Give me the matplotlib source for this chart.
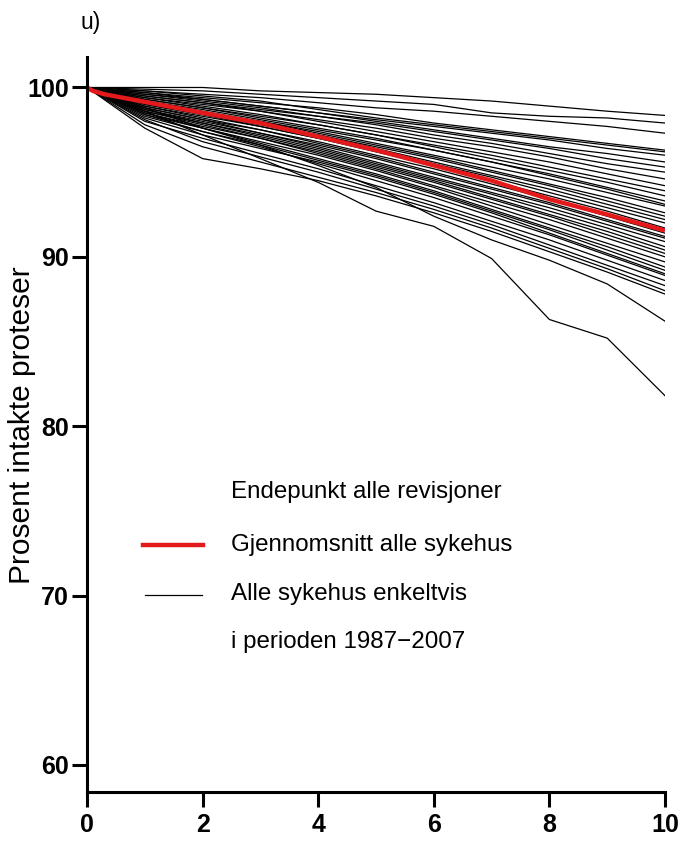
import matplotlib
matplotlib.use("Agg")
import matplotlib.pyplot as plt

years = [0, 1, 2, 3, 4, 5, 6, 7, 8, 9, 10]

hospitals = [
    [100, 100.0, 100.0, 99.8, 99.7, 99.6, 99.4, 99.2, 98.9, 98.6, 98.35],
    [100, 99.9, 99.8, 99.6, 99.4, 99.2, 99.0, 98.5, 98.3, 98.2, 97.9],
    [100, 99.8, 99.6, 99.4, 99.1, 98.8, 98.6, 98.3, 98.0, 97.7, 97.3],
    [100, 99.7, 99.4, 99.1, 98.8, 98.4, 97.9, 97.5, 97.1, 96.7, 96.3],
    [100, 99.8, 99.5, 99.2, 98.7, 98.2, 97.8, 97.4, 97.0, 96.6, 96.2],
    [100, 99.6, 99.3, 98.9, 98.5, 98.1, 97.7, 97.3, 96.9, 96.4, 96.0],
    [100, 99.7, 99.3, 98.9, 98.5, 98.0, 97.5, 97.0, 96.5, 96.1, 95.6],
    [100, 99.5, 99.1, 98.7, 98.3, 97.9, 97.4, 96.9, 96.4, 95.8, 95.3],
    [100, 99.6, 99.2, 98.8, 98.3, 97.8, 97.2, 96.7, 96.1, 95.5, 95.0],
    [100, 99.4, 99.0, 98.6, 98.1, 97.6, 97.0, 96.5, 95.9, 95.2, 94.6],
    [100, 99.5, 99.1, 98.6, 98.0, 97.4, 96.8, 96.2, 95.6, 94.9, 94.2],
    [100, 99.3, 98.8, 98.3, 97.8, 97.2, 96.6, 96.0, 95.3, 94.6, 93.9],
    [100, 99.4, 98.9, 98.4, 97.8, 97.2, 96.5, 95.8, 95.1, 94.4, 93.6],
    [100, 99.2, 98.7, 98.1, 97.5, 96.9, 96.3, 95.6, 94.9, 94.1, 93.3],
    [100, 99.3, 98.8, 98.2, 97.6, 97.0, 96.3, 95.6, 94.8, 94.0, 93.1],
    [100, 99.1, 98.5, 98.0, 97.4, 96.7, 96.0, 95.3, 94.6, 93.8, 93.0],
    [100, 99.2, 98.6, 98.0, 97.3, 96.6, 95.9, 95.1, 94.3, 93.5, 92.6],
    [100, 99.0, 98.4, 97.8, 97.2, 96.5, 95.8, 95.0, 94.2, 93.3, 92.4],
    [100, 99.1, 98.5, 97.9, 97.2, 96.4, 95.6, 94.8, 94.0, 93.1, 92.2],
    [100, 98.9, 98.3, 97.7, 97.0, 96.3, 95.5, 94.7, 93.8, 92.9, 92.0],
    [100, 99.0, 98.4, 97.7, 97.0, 96.2, 95.4, 94.5, 93.6, 92.7, 91.7],
    [100, 98.8, 98.1, 97.5, 96.8, 96.0, 95.2, 94.3, 93.4, 92.4, 91.4],
    [100, 98.9, 98.2, 97.5, 96.7, 95.9, 95.0, 94.1, 93.2, 92.2, 91.2],
    [100, 98.7, 98.0, 97.3, 96.6, 95.8, 94.9, 94.0, 93.1, 92.1, 91.1],
    [100, 98.8, 98.1, 97.3, 96.5, 95.6, 94.7, 93.8, 92.9, 91.9, 90.9],
    [100, 98.6, 97.9, 97.2, 96.4, 95.5, 94.6, 93.7, 92.7, 91.7, 90.6],
    [100, 98.7, 97.9, 97.1, 96.3, 95.4, 94.5, 93.5, 92.5, 91.5, 90.4],
    [100, 98.5, 97.7, 97.0, 96.2, 95.3, 94.4, 93.4, 92.4, 91.3, 90.2],
    [100, 98.6, 97.8, 97.0, 96.1, 95.2, 94.2, 93.2, 92.2, 91.1, 90.0],
    [100, 98.4, 97.6, 96.8, 96.0, 95.1, 94.1, 93.0, 91.9, 90.8, 89.7],
    [100, 98.5, 97.6, 96.7, 95.8, 94.9, 93.9, 92.8, 91.7, 90.6, 89.4],
    [100, 98.3, 97.4, 96.6, 95.7, 94.8, 93.8, 92.7, 91.6, 90.4, 89.2],
    [100, 98.2, 97.2, 96.4, 95.6, 94.7, 93.7, 92.6, 91.4, 90.2, 89.0],
    [100, 98.4, 97.4, 96.5, 95.5, 94.5, 93.5, 92.4, 91.3, 90.1, 88.9],
    [100, 98.0, 97.0, 96.1, 95.2, 94.2, 93.2, 92.1, 91.0, 89.8, 88.6],
    [100, 98.1, 96.8, 95.9, 95.0, 94.0, 93.0, 91.9, 90.7, 89.5, 88.3],
    [100, 97.8, 96.5, 95.6, 94.7, 93.8, 92.8, 91.7, 90.5, 89.3, 88.0],
    [100, 97.6, 95.8, 95.2, 94.5, 93.6, 92.6, 91.5, 90.3, 89.1, 87.8],
    [100, 98.8, 97.6, 96.6, 95.4, 94.1, 92.4, 91.0, 89.8, 88.4, 86.2],
    [100, 98.6, 97.2, 95.8, 94.4, 92.7, 91.8, 89.9, 86.3, 85.2, 81.8],
]

mean_years = [0, 0.1, 0.3, 1, 2, 3, 4, 5, 6, 7, 8, 9, 10]
mean_values = [100, 99.8, 99.6, 99.15, 98.5, 97.9, 97.1, 96.3, 95.4, 94.5, 93.4, 92.5, 91.55]

xticks = [0, 2, 4, 6, 8, 10]
yticks = [60, 70, 80, 90, 100]

legend_lines = ["Endepunkt alle revisjoner", "Gjennomsnitt alle sykehus",
                "Alle sykehus enkeltvis", "i perioden 1987\u22122007"]
panel_label = "u)"
ylabel = "Prosent intakte proteser"

W, H = 683, 841
fig = plt.figure(figsize=(W / 100, H / 100), dpi=100)
ax = fig.add_axes([87 / W, 1 - 792 / H, 578 / W, (792 - 57) / H])

red = "#e3191c"
for vals in hospitals:
    ax.plot(years, vals, color="black", lw=0.9, solid_joinstyle="miter")
ax.plot(mean_years, mean_values, color=red, lw=3.2, solid_capstyle="butt")

ax.set_xlim(0, 10)
ax.set_ylim(58.4, 101.8)
ax.set_xticks(xticks)
ax.set_yticks(yticks)
for s in ["top", "right"]:
    ax.spines[s].set_visible(False)
for s in ["left", "bottom"]:
    ax.spines[s].set_linewidth(2.2)
ax.tick_params(width=2.2, length=11, direction="out")
ax.tick_params(axis="x", pad=4)
ax.tick_params(axis="y", pad=2)

tick_font = dict(family=["Liberation Sans", "DejaVu Sans"], weight="bold", size=18)
ax.set_xticklabels([str(t) for t in xticks], **tick_font)
ax.set_yticklabels([str(t) for t in yticks], **tick_font)

reg = ["Liberation Sans", "DejaVu Sans"]
fig.text(22 / W, 1 - 425 / H, ylabel, rotation=90, ha="center", va="center",
         family=reg, size=21.5)
fig.text(80 / W, 1 - 22 / H, panel_label, ha="left", va="center", family=reg, size=16.5)

ys = [492, 545, 594, 642]
for txt, y in zip(legend_lines, ys):
    fig.text(231 / W, 1 - y / H, txt, ha="left", va="center", family=reg, size=17.4)

ax.plot([143 / W, 203 / W], [1 - 545 / H, 1 - 545 / H], transform=fig.transFigure,
        color=red, lw=3.2, clip_on=False)
ax.plot([145 / W, 202 / W], [1 - 595 / H, 1 - 595 / H], transform=fig.transFigure,
        color="black", lw=0.9, clip_on=False)

fig.savefig("out.png", dpi=100)
